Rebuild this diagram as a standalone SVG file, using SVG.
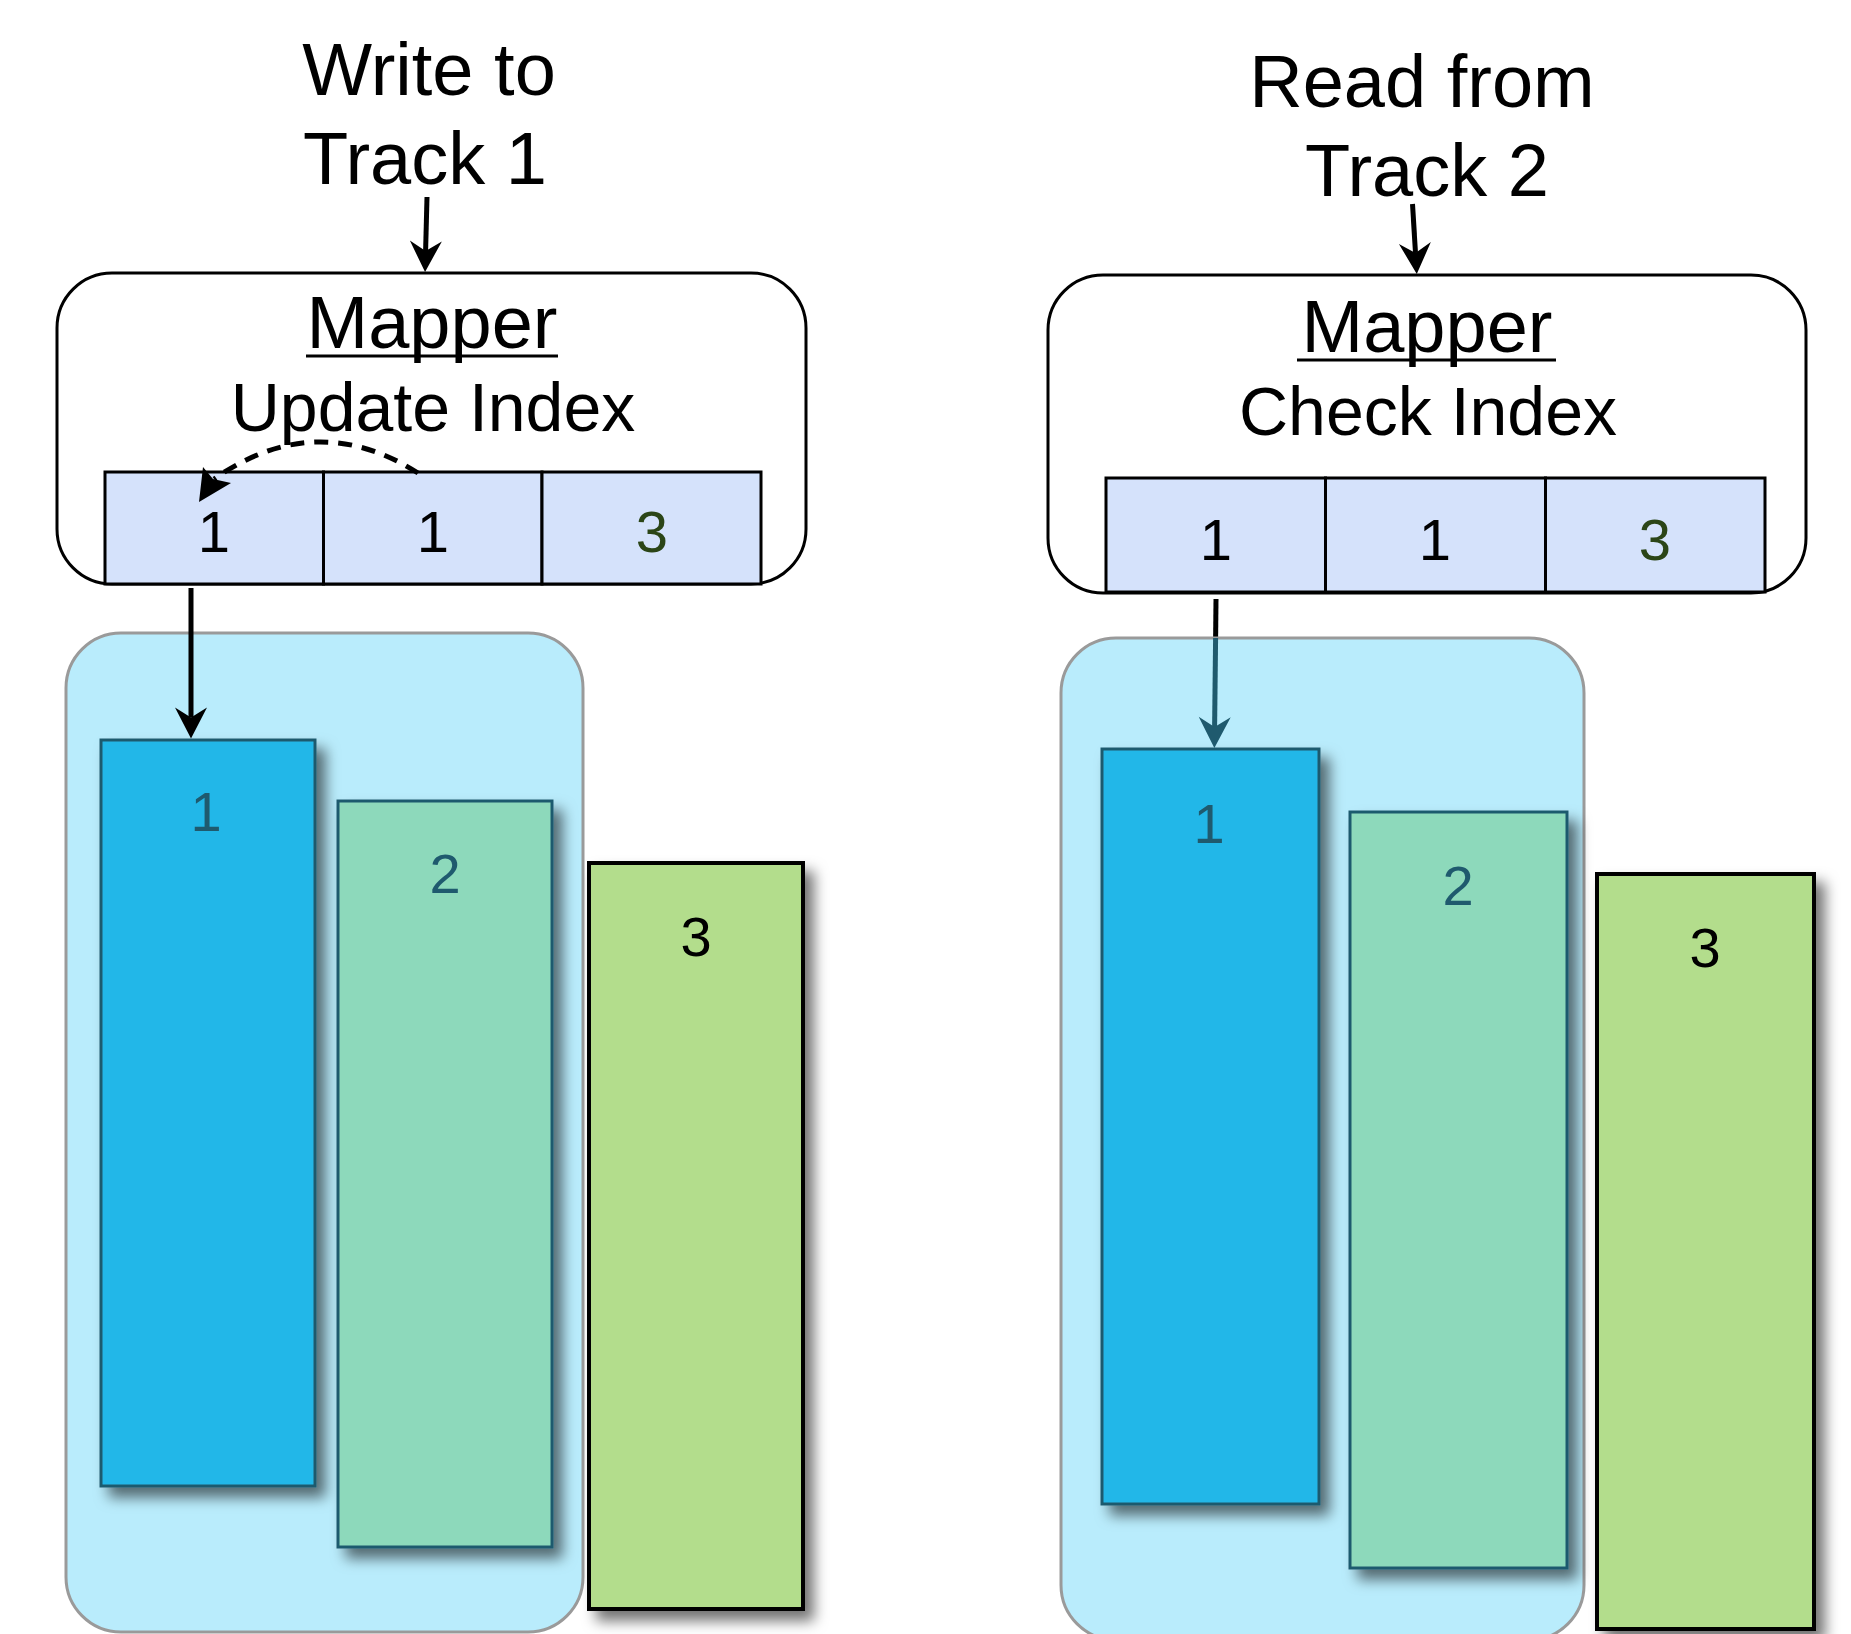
<svg xmlns="http://www.w3.org/2000/svg" width="1851" height="1634" viewBox="0 0 1851 1634">
<style>
.t{font-family:"Liberation Sans",Arial,Helvetica,sans-serif;fill:#000;text-anchor:middle}
.title{font-size:74px}
.sub{font-size:68px}
.cell{font-size:58px}
.bar{font-size:56px}
.mbox{fill:#fff;stroke:#000;stroke-width:3}
.cl{fill:#d5e2fb;stroke:#000;stroke-width:3}
.cont{fill:#b9ecfc;stroke:#9a9a9a;stroke-width:3}
.b1{fill:#22b7e8;stroke:#1f5a6e;stroke-width:3}
.b2{fill:#8dd9bb;stroke:#1f5a6e;stroke-width:3}
.b3{fill:#b3dd8c;stroke:#000;stroke-width:4}
.ln{fill:none;stroke:#000;stroke-width:5}
</style>
<defs>
<marker id="ah" viewBox="-12 -18 36 36" refX="0" refY="0" markerWidth="36" markerHeight="36" markerUnits="userSpaceOnUse" orient="auto">
<path d="M21,0 L-10,-16 L0,0 L-10,16 Z" fill="#000"/>
</marker>
<marker id="aht" viewBox="-12 -18 36 36" refX="0" refY="0" markerWidth="36" markerHeight="36" markerUnits="userSpaceOnUse" orient="auto">
<path d="M21,0 L-10,-16 L0,0 L-10,16 Z" fill="#1f5a6e"/>
</marker>
<filter id="sh" x="-20%" y="-10%" width="150%" height="130%">
<feDropShadow dx="9" dy="10" stdDeviation="7" flood-color="#000" flood-opacity="0.55"/>
</filter>
</defs>

<g id="label-write">
<text class="t title" x="429" y="95">Write to</text>
<text class="t title" x="425" y="184">Track 1</text>
</g>
<g id="label-read">
<text class="t title" x="1422" y="107">Read from</text>
<text class="t title" x="1427" y="196">Track 2</text>
</g>

<g id="mapper-left">
<rect class="mbox" x="57" y="273" width="749" height="311" rx="55" ry="55"/>
<text class="t title" x="432" y="348">Mapper</text>
<line x1="306" y1="356" x2="558" y2="356" stroke="#000" stroke-width="3"/>
<text class="t sub" x="433" y="431">Update Index</text>
</g>
<g id="index-left">
<rect class="cl" x="105" y="472" width="218.5" height="112"/>
<rect class="cl" x="323.5" y="472" width="218.5" height="112"/>
<rect class="cl" x="542" y="472" width="219" height="112"/>
<text class="t cell" x="214" y="552">1</text>
<text class="t cell" x="433" y="552">1</text>
<text class="t cell" x="652" y="552" style="fill:#2b4517">3</text>
</g>

<g id="mapper-right">
<rect class="mbox" x="1048" y="275" width="758" height="318" rx="55" ry="55"/>
<text class="t title" x="1427" y="352">Mapper</text>
<line x1="1297" y1="360" x2="1556" y2="360" stroke="#000" stroke-width="3"/>
<text class="t sub" x="1428" y="435">Check Index</text>
</g>
<g id="index-right">
<rect class="cl" x="1106" y="478" width="219.5" height="114"/>
<rect class="cl" x="1325.5" y="478" width="220" height="114"/>
<rect class="cl" x="1545.5" y="478" width="219.5" height="114"/>
<text class="t cell" x="1216" y="560">1</text>
<text class="t cell" x="1435" y="560">1</text>
<text class="t cell" x="1655" y="560" style="fill:#2b4517">3</text>
</g>

<g id="connectors-under">
<path class="ln" d="M1216,599 L1215.6,640"/>
</g>

<g id="container-left">
<rect class="cont" x="66" y="633" width="517" height="999" rx="55" ry="55"/>
</g>
<g id="container-right">
<rect class="cont" x="1061" y="638" width="523" height="1002" rx="55" ry="55"/>
</g>

<g id="track1-left">
<rect class="b1" x="101" y="740" width="214" height="746" filter="url(#sh)"/>
<text class="t bar" x="206" y="831" style="fill:#1f5a6e">1</text>
</g>
<g id="track2-left">
<rect class="b2" x="338" y="801" width="214" height="746" filter="url(#sh)"/>
<text class="t bar" x="445" y="893" style="fill:#1f5a6e">2</text>
</g>
<g id="track3-left">
<rect class="b3" x="589" y="863" width="214" height="746" filter="url(#sh)"/>
<text class="t bar" x="696" y="956">3</text>
</g>

<g id="track1-right">
<rect class="b1" x="1102" y="749" width="217" height="755" filter="url(#sh)"/>
<text class="t bar" x="1209" y="843" style="fill:#1f5a6e">1</text>
</g>
<g id="track2-right">
<rect class="b2" x="1350" y="812" width="217" height="756" filter="url(#sh)"/>
<text class="t bar" x="1458" y="905" style="fill:#1f5a6e">2</text>
</g>
<g id="track3-right">
<rect class="b3" x="1597" y="874" width="217" height="755" filter="url(#sh)"/>
<text class="t bar" x="1705" y="967">3</text>
</g>

<g id="connectors">
<path class="ln" d="M427,197 L425.6,251" marker-end="url(#ah)"/>
<path class="ln" d="M1412.5,204 L1415.5,253" marker-end="url(#ah)"/>
<path class="ln" d="M191,588 L191,717.5" marker-end="url(#ah)"/>
<path class="ln" d="M1215.6,638 L1214.6,727" stroke="#1f5a6e" style="stroke:#1f5a6e" marker-end="url(#aht)"/>
<path class="ln" d="M418,473 Q316,408 214,479" stroke-dasharray="14,10"/>
<polygon points="199,502 203,467 213,479 231,483" fill="#000"/>
</g>
</svg>
